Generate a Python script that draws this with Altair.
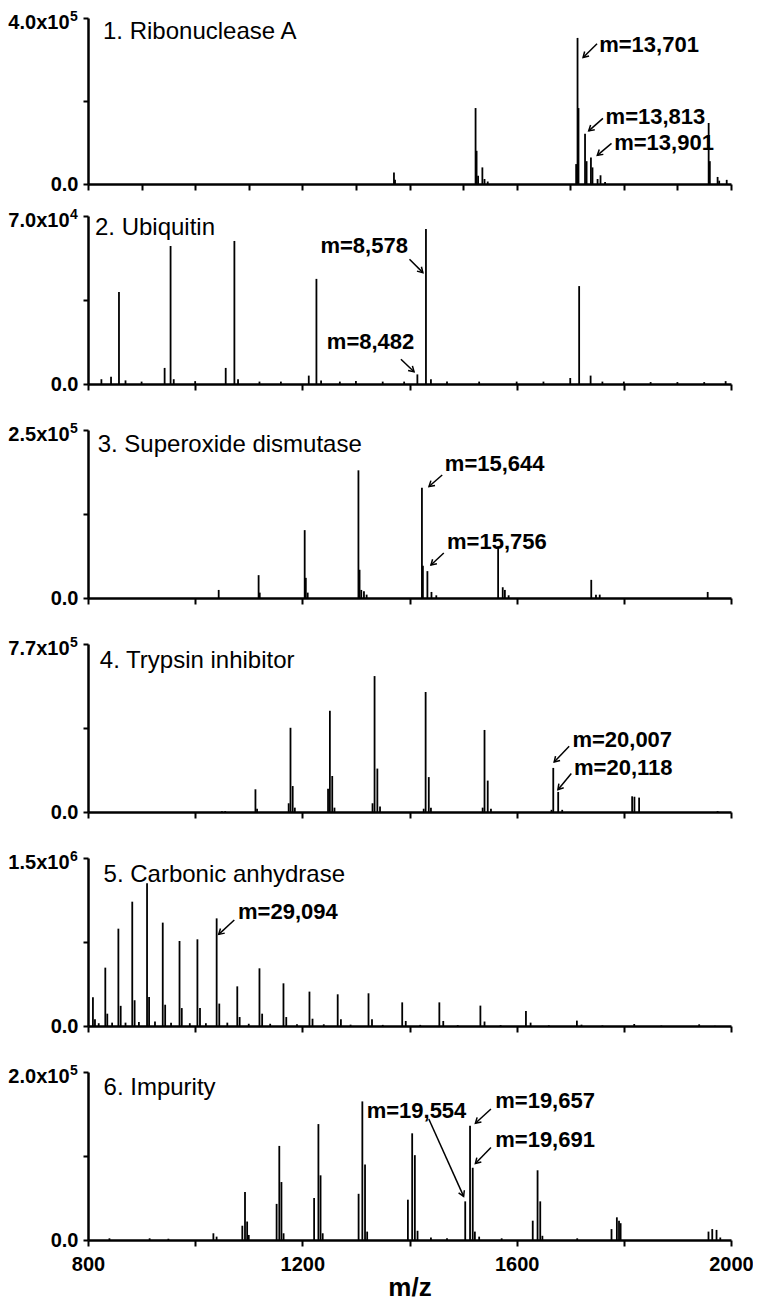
import math
import altair as alt
import pandas as pd

# ---------------- data ----------------
NAMES = ["1. Ribonuclease A", "2. Ubiquitin", "3. Superoxide dismutase",
         "4. Trypsin inhibitor", "5. Carbonic anhydrase", "6. Impurity"]
YMAX = [4.0e5, 7.0e4, 2.5e5, 7.7e5, 1.5e6, 2.0e5]
YLABEL = ["4.0x10", "7.0x10", "2.5x10", "7.7x10", "1.5x10", "2.0x10"]
YEXP = ["5", "4", "5", "5", "6", "5"]
TITLE_MZ = [828, 813, 818, 822, 829, 829]
TITLE_FRAC = [0.915, 0.93, 0.91, 0.90, 0.90, 0.905]

P1_MZ = [1371.0, 1373.0, 1523.3, 1525.2, 1528.0, 1536.0, 1540.0, 1546.0, 1711.0, 1713.6,
         1715.4, 1727.6, 1730.5, 1738.6, 1741.5, 1751.0, 1756.5, 1765.0, 1958.3, 1960.5,
         1975.0, 1978.0, 1992.0]
P1_INT = [28e3, 10e3, 183e3, 80e3, 20e3, 40e3, 12e3, 6e3, 48e3, 352e3,
          183e3, 121e3, 55e3, 64e3, 40e3, 12e3, 21e3, 5e3, 147e3, 55e3,
          17e3, 8e3, 10e3]

P2_MZ = [825, 843, 857.8, 870, 900, 943.0, 954.1, 960, 1000, 1057.0, 1073.2, 1080, 1120,
         1160, 1212.0, 1226.3, 1235, 1270, 1300, 1350, 1390, 1414.7, 1430.7, 1440, 1470,
         1530, 1600, 1650, 1700.0, 1716.6, 1738.0, 1760, 1800, 1850, 1900, 1950, 1990]
P2_INT = [2e3, 3e3, 38.3e3, 1.5e3, 1e3, 6.7e3, 57.5e3, 2e3, 1.2e3, 6.7e3, 59.6e3, 2e3, 1e3,
          1e3, 3.5e3, 43.8e3, 1.5e3, 1e3, 1.2e3, 1e3, 1e3, 4e3, 64.6e3, 2e3, 1e3,
          1e3, 1e3, 1e3, 2.5e3, 40.8e3, 3.5e3, 1e3, 1e3, 0.8e3, 0.8e3, 0.8e3, 1.2e3]

P3_MZ = [1043.9, 1118.4, 1120.5, 1204.4, 1206.5, 1210, 1304.7, 1306.8, 1310, 1315, 1320,
         1423.2, 1425.0, 1433.4, 1441, 1450, 1565.4, 1574.0, 1578.0, 1585, 1739.2, 1748,
         1755, 1956.5]
P3_INT = [12e3, 34e3, 8e3, 101e3, 30e3, 8e3, 190e3, 42e3, 12e3, 10e3, 5e3,
          164e3, 48e3, 40e3, 9e3, 4e3, 77e3, 16e3, 12e3, 4e3, 27e3, 5e3,
          5e3, 9e3]

P4_MZ = [1050, 1056, 1112.5, 1115.5, 1174.5, 1177.9, 1182.0, 1186, 1248.0, 1251.4, 1255.8,
         1260, 1331.0, 1334.8, 1340.0, 1345, 1426.5, 1430.1, 1436.0, 1440, 1536.5, 1540.0,
         1546.0, 1552, 1665.0, 1668.3, 1677.5, 1685, 1815.5, 1819.8, 1828.5, 1975]
P4_INT = [4e3, 4e3, 104e3, 15e3, 40e3, 386e3, 119e3, 20e3, 107e3, 464e3, 165e3,
          20e3, 40e3, 623e3, 199e3, 25e3, 15e3, 550e3, 160e3, 20e3, 20e3, 376e3,
          144e3, 15e3, 10e3, 202e3, 92e3, 10e3, 72e3, 70e3, 66e3, 4e3]

P5_MZ = [809.2, 832.3, 856.7, 882.6, 910.2, 939.5, 970.8, 1004.2, 1040.1, 1078.6, 1120.0,
         1164.8, 1213.3, 1266.0, 1323.5, 1386.4, 1455.7, 1532.3, 1617.3, 1712.4, 1819.4,
         1940.6,
         813, 836, 861, 887, 914, 944, 975, 1009, 1045, 1083, 1125, 1170, 1219, 1272, 1330,
         1393, 1463, 1540, 1626, 1721,
         820, 845, 870, 895, 925, 955, 990, 1020, 1060, 1100, 1140, 1190, 1240, 1290, 1350,
         1420, 1490, 1570, 1660, 1760, 1870, 1970]
P5_INT = [256e3, 521e3, 869e3, 1110e3, 1274e3, 923e3, 759e3, 774e3, 961e3, 354e3, 515e3,
          381e3, 307e3, 283e3, 292e3, 211e3, 211e3, 182e3, 134e3, 48e3, 18e3,
          15e3,
          60e3, 110e3, 180e3, 230e3, 260e3, 190e3, 160e3, 160e3, 200e3, 80e3, 110e3, 80e3,
          65e3, 60e3, 60e3, 45e3, 45e3, 40e3, 30e3, 12e3,
          25e3, 30e3, 30e3, 35e3, 40e3, 30e3, 25e3, 25e3, 30e3, 20e3, 20e3, 15e3, 15e3, 12e3,
          10e3, 10e3, 8e3, 8e3, 6e3, 5e3, 4e3, 3e3]

P6_MZ = [840, 915, 950, 1034, 1040, 1088, 1093, 1097, 1100, 1152, 1157, 1161, 1165, 1222,
         1230, 1234, 1238, 1305, 1312, 1317, 1321, 1397, 1405, 1410, 1415, 1440, 1470, 1504,
         1513, 1518, 1522, 1530, 1572, 1630, 1639, 1644, 1648, 1713, 1777, 1787, 1791, 1794,
         1958, 1965, 1973, 1980]
P6_INT = [2e3, 2e3, 1.5e3, 8e3, 4e3, 17e3, 57e3, 22e3, 6e3, 43e3, 112e3, 69e3, 8e3, 50e3,
          138e3, 77e3, 8e3, 55e3, 165e3, 90e3, 10e3, 48e3, 127e3, 101e3, 11e3, 3e3, 2e3, 46e3,
          136e3, 86e3, 10e3, 4e3, 2e3, 23e3, 83e3, 46e3, 5e3, 2e3, 13e3, 27e3, 23e3, 20e3,
          10e3, 13e3, 12e3, 3e3]

SPEC_MZ = [P1_MZ, P2_MZ, P3_MZ, P4_MZ, P5_MZ, P6_MZ]
SPEC_INT = [P1_INT, P2_INT, P3_INT, P4_INT, P5_INT, P6_INT]

# annotations: panel index, label, label anchor, alignment, arrow tail -> head
ANN_PANEL = [0, 0, 0, 1, 1, 2, 2, 3, 3, 4, 5, 5, 5]
ANN_TEXT = ["m=13,701", "m=13,813", "m=13,901", "m=8,578", "m=8,482", "m=15,644", "m=15,756",
            "m=20,007", "m=20,118", "m=29,094", "m=19,554", "m=19,657", "m=19,691"]
ANN_MZ = [1754, 1766, 1782, 1397, 1409, 1466, 1470, 1704, 1707, 1080, 1320, 1560, 1560]
ANN_V = [336e3, 162e3, 98e3, 57.5e3, 17.6e3, 199e3, 83e3, 329e3, 203e3, 1021e3, 154e3, 166e3, 119e3]
ANN_ALIGN = ["left", "left", "left", "right", "right", "left", "left", "left", "left", "left",
             "left", "left", "left"]
ARR_MZ1 = [1750, 1761, 1777, 1400, 1384, 1461, 1464, 1698, 1702, 1073, 1436, 1552, 1552]
ARR_V1 = [338e3, 158e3, 98e3, 52e3, 10.3e3, 183e3, 67e3, 301e3, 176e3, 946e3, 144e3, 156e3, 110e3]
ARR_MZ2 = [1724, 1734.5, 1750.5, 1425, 1408.5, 1436.4, 1440, 1670, 1677, 1044, 1501, 1523, 1523]
ARR_V2 = [305e3, 128e3, 69e3, 46.4e3, 5.1e3, 166e3, 49e3, 229e3, 102e3, 818e3, 52e3, 139e3, 91e3]

# ---------------- styling ----------------
W = 643
HEIGHTS = [166, 168, 168, 168, 168, 168]
FONT = "Liberation Sans"
ARROW_PATH = "M -1 -0.6 L 0 0 L -1 0.6"


def panel(i):
    ymax = YMAX[i]
    H = HEIGHTS[i]
    bottom = i == 5
    xvals = list(range(800, 2001, 100)) if i == 0 else list(range(800, 2001, 200))
    xaxis_kw = dict(values=xvals, domainColor="black", domainWidth=2.5, tickColor="black",
                    tickWidth=2, tickSize=6, grid=False, labelFlush=False, labelOverlap=False)
    if bottom:
        xaxis_kw.update(labels=True, format="d",
                        labelExpr="datum.value % 400 == 0 ? '' + datum.value : ''",
                        labelFont=FONT, labelFontSize=20, labelFontWeight="bold",
                        labelColor="black", labelPadding=8, title="m/z", titleFont=FONT,
                        titleFontSize=26, titleFontWeight="bold", titleColor="black",
                        titlePadding=0)
        xaxis = alt.Axis(**xaxis_kw)
    else:
        xaxis = alt.Axis(labels=False, title=None, **xaxis_kw)

    top_test = "datum.value > %r" % (ymax * 0.75)
    yaxis = alt.Axis(values=[0, ymax / 2, ymax],
                     labelExpr=("datum.value == 0 ? '0.0' : (%s ? '%s' : '')"
                                % (top_test, YLABEL[i])),
                     domainColor="black", domainWidth=2.5, tickColor="black", tickWidth=2,
                     tickSize=5, grid=False, labelFlush=False, labelOverlap=False,
                     labelFont=FONT, labelFontSize=20, labelFontWeight="bold",
                     labelColor="black", title=None,
                     labelPadding={"condition": {"test": top_test, "value": 14}, "value": 5},
                     labelOffset={"condition": {"test": top_test, "value": 4}, "value": 0})

    X = alt.X("mz:Q", scale=alt.Scale(domain=[800, 2000], nice=False, zero=False), axis=xaxis)
    Y = alt.Y("v:Q", scale=alt.Scale(domain=[0, ymax], nice=False, zero=True), axis=yaxis)

    spec = pd.DataFrame({"mz": SPEC_MZ[i], "v": SPEC_INT[i]})
    spec["v0"] = 0.0
    layers = [alt.Chart(spec).mark_rule(color="black", strokeWidth=1.8).encode(x=X, y=Y, y2="v0:Q")]

    # exponent of the top y tick label, drawn as a raised small number
    edf = pd.DataFrame({"v": [ymax], "t": [YEXP[i]]})
    layers.append(alt.Chart(edf).mark_text(align="left", baseline="alphabetic", font=FONT,
                                           fontSize=14, fontWeight="bold", color="black", dy=3)
                  .encode(x=alt.value(-18), y=Y, text="t:N"))

    tdf = pd.DataFrame({"mz": [TITLE_MZ[i]], "v": [TITLE_FRAC[i] * ymax], "t": [NAMES[i]]})
    layers.append(alt.Chart(tdf).mark_text(align="left", baseline="middle", font=FONT,
                                           fontSize=24, color="black")
                  .encode(x=X, y=Y, text="t:N"))

    idx = [k for k, p in enumerate(ANN_PANEL) if p == i]
    if idx:
        rows = []
        for k in idx:
            dx = (ARR_MZ2[k] - ARR_MZ1[k]) * W / 1200.0
            dy = -(ARR_V2[k] - ARR_V1[k]) * H / ymax
            ang = math.degrees(math.atan2(dy, dx)) % 360
            rows.append({"mz": ARR_MZ1[k], "v": ARR_V1[k], "mz2": ARR_MZ2[k], "v2": ARR_V2[k],
                         "hmz": ARR_MZ2[k], "hv": ARR_V2[k], "ang": ang})
        adf = pd.DataFrame(rows)
        layers.append(alt.Chart(adf).mark_rule(color="black", strokeWidth=1.5)
                      .encode(x=X, y=Y, x2="mz2:Q", y2="v2:Q"))
        hdf = pd.DataFrame({"mz": adf["hmz"], "v": adf["hv"], "ang": adf["ang"]})
        layers.append(alt.Chart(hdf).mark_point(shape=ARROW_PATH, filled=False, color="black",
                                                strokeWidth=1.5, size=110, opacity=1)
                      .encode(x=X, y=Y, angle=alt.Angle("ang:Q", scale=None)))
        for al in ["left", "right"]:
            sel = [k for k in idx if ANN_ALIGN[k] == al]
            if sel:
                ldf = pd.DataFrame({"mz": [ANN_MZ[k] for k in sel], "v": [ANN_V[k] for k in sel],
                                    "t": [ANN_TEXT[k] for k in sel]})
                layers.append(alt.Chart(ldf).mark_text(align=al, baseline="middle", font=FONT,
                                                       fontSize=22, fontWeight="bold",
                                                       color="black")
                              .encode(x=X, y=Y, text="t:N"))
    return alt.layer(*layers).properties(width=W, height=H)


panels = [panel(i) for i in range(6)]
lower = alt.vconcat(*panels[1:], spacing=46, bounds="flush")
# with autosize "none" the view keeps the layout width (643) but a zero height,
# so the bottom padding has to supply the whole drawing height
chart = (alt.vconcat(panels[0], lower, spacing=32, bounds="flush")
         .properties(autosize=alt.AutoSizeParams(type="none"),
                     padding={"left": 80, "top": 10, "right": 22, "bottom": 1286})
         .configure_view(stroke="transparent"))

chart.save("out.html", embed_options={"renderer": "svg", "actions": False})
